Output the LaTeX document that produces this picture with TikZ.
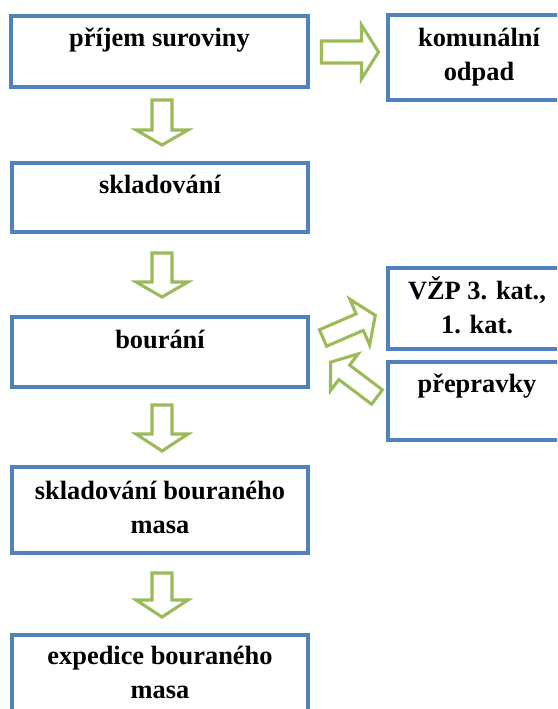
\documentclass[tikz,border=0pt]{standalone}
\usepackage{fontspec}
\setmainfont{Liberation Serif}
\definecolor{boxblue}{HTML}{4F81BD}
\definecolor{arrowgreen}{HTML}{9BBB59}
\tikzset{
  box/.style={rectangle, draw=boxblue, line width=2.6pt, fill=white,
    inner sep=0pt, outer sep=0pt, anchor=north west},
  boxsize/.style 2 args={minimum width=#1*0.75pt, minimum height=#2*0.75pt},
  lbl/.style={font=\fontsize{19.8}{25.5}\selectfont\bfseries, align=center,
    anchor=base, inner sep=0pt},
  flowline/.style={draw=arrowgreen, line width=2.3pt, fill=white,
    line join=miter, miter limit=10},
  % block arrow: #1 length, #2 head length, #3 head half width, #4 shaft half width
  pics/blockarrow/.style n args={4}{code={
    \path[flowline] (0,-#4) -- ({#1-#2},-#4) -- ({#1-#2},-#3) -- (#1,0)
      -- ({#1-#2},#3) -- ({#1-#2},#4) -- (0,#4) -- cycle;
  }},
}
\begin{document}
\begin{tikzpicture}[x=0.75pt, y=-0.75pt]
  \useasboundingbox (0,0) rectangle (557,709);
  \clip (0,0) rectangle (557,709);

  % process boxes (left column)
  \node[box, boxsize={297}{71}]  (b1) at (11,16)  {};
  \node[box, boxsize={296}{69}]  (b2) at (12,163) {};
  \node[box, boxsize={296}{70}]  (b3) at (12,317) {};
  \node[box, boxsize={296}{86}]  (b4) at (12,467) {};
  \node[box, boxsize={296}{130}] (b5) at (12,635) {};

  % side boxes (right column)
  \node[box, boxsize={180}{85}] (k) at (388,15)  {};
  \node[box, boxsize={180}{81}] (v) at (388,268) {};
  \node[box, boxsize={180}{78}] (p) at (388,362) {};

  % labels (base anchor = baseline of the last line)
  \node[lbl] (t1) at (159.5,47) {příjem suroviny};
  \node[lbl] (t2) at (160,194)  {skladování};
  \node[lbl] (t3) at (160,348)  {bourání};
  \node[lbl] (t4) at (160,533)  {skladování bouraného\\masa};
  \node[lbl] (t5) at (160,698)  {expedice bouraného\\masa};
  \node[lbl] (tk) at (479,81)   {komunální\\odpad};
  \node[lbl] (tv) at (477,333)  {VŽP 3. kat.,\\1. kat.};
  \node[lbl] (tp) at (477,392)  {přepravky};

  % flow arrows between the stages
  \pic[rotate=-90] at (162,100) {blockarrow={45}{15}{26}{10}};
  \pic[rotate=-90] at (162,253) {blockarrow={44}{15}{26}{10}};
  \pic[rotate=-90] at (162,405) {blockarrow={46}{17}{26}{10}};
  \pic[rotate=-90] at (162,573) {blockarrow={44}{17}{26}{10}};

  % side outputs and inputs
  \pic at (321.5,52) {blockarrow={57}{17}{27}{11}};
  \pic[rotate=23.4] at (323,338) {blockarrow={57}{17}{25}{9}};
  \pic[rotate=143] at (377,397) {blockarrow={58}{17}{23}{9}};
\end{tikzpicture}
\end{document}
